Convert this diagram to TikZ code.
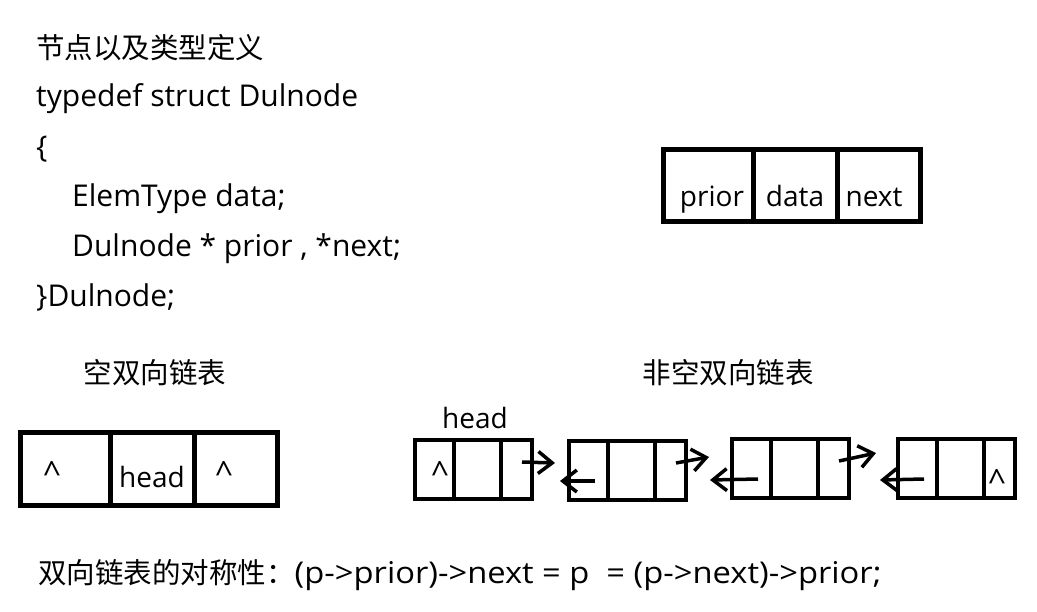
\documentclass[tikz,border=0pt]{standalone}
\usepackage{fontspec}
\setmainfont{Open Sans}
\newfontfamily\cjk{Noto Sans CJK SC}
\usetikzlibrary{arrows.meta}
\tikzset{
  txt/.style={inner sep=0pt, anchor=base west, font=\fontsize{30}{34}\selectfont},
  ctxt/.style={inner sep=0pt, anchor=base, font=\fontsize{28}{32}\selectfont},
  caret/.style={inner sep=0pt, anchor=base, font=\fontsize{32}{34}\selectfont},
  cjktxt/.style={inner sep=0pt, anchor=base, font=\fontsize{28.5}{32}\selectfont\cjk},
  bigbox/.style={draw, line width=5pt},
  smallbox/.style={draw, line width=3.5pt},
  link/.style={line width=3.5pt, -{Straight Barb[length=14pt,width=22pt,line width=3.5pt]}},
}
\begin{document}
\begin{tikzpicture}[x=1pt,y=-1pt]
\useasboundingbox (0,0) rectangle (1037,611);
% code text
\node[cjktxt, anchor=base west] (t0) at (36,58) {节点以及类型定义};
\node[txt] (t1) at (36,106) {typedef struct Dulnode};
\node[txt] (t2) at (36,157) {\{};
\node[txt] (t3) at (72,206) {ElemType data;};
\node[txt] (t4) at (72,256) {Dulnode * prior , *next;};
\node[txt] (t5) at (36,306) {\}Dulnode;};
% node type box
\draw[bigbox] (663,149) rectangle (920,221);
\draw[bigbox] (753,149) -- (753,221);
\draw[bigbox] (837,149) -- (837,221);
\node[ctxt] (bp) at (712,206) {prior};
\node[ctxt] (bd) at (795,206) {data};
\node[ctxt] (bn) at (874,206) {next};
% empty list
\node[cjktxt] (l1) at (155,383) {空双向链表};
\draw[bigbox] (20,432) rectangle (277,505);
\draw[bigbox] (110,432) -- (110,505);
\draw[bigbox] (194,432) -- (194,505);
\node[caret] (e1) at (52,484) {\^{}};
\node[ctxt] (e2) at (152,487) {head};
\node[caret] (e3) at (224,484) {\^{}};
% non-empty list
\node[cjktxt] (l2) at (728,383) {非空双向链表};
\node[ctxt] (hd) at (475,428) {head};
\foreach \n/\x/\y in {n1/415/440, n2/569/441, n3/732/439, n4/898/439}{
  \draw[smallbox] (\x,\y) rectangle ++(117,59);
  \draw[smallbox] (\x+39,\y) -- ++(0,59);
  \draw[smallbox] (\x+86,\y) -- ++(0,59);
  \coordinate (\n-nx) at (\x+107,\y+22);
  \coordinate (\n-pv) at (\x+26,\y+40);
}
\node[caret] (c1) at (440,484) {\^{}};
\node[caret] (c4) at (997,492) {\^{}};
\coordinate (a1) at (555,463);
\coordinate (b1) at (560,481);
\coordinate (a2) at (709,457);
\coordinate (b2) at (710,480);
\coordinate (a3) at (876,453);
\coordinate (b3) at (880,480);
\draw[link] (n1-nx) -- (a1);
\draw[link] (n2-pv) -- (b1);
\draw[link] (n2-nx) -- (a2);
\draw[link] (n3-pv) -- (b2);
\draw[link] (n3-nx) -- (a3);
\draw[link] (n4-pv) -- (b3);
% bottom
\node[txt] (sym) at (38,583) {{\cjk\fontsize{28.5}{32}\selectfont 双向链表的对称性：}\scalebox{1.09}[1]{(p->prior)->next = p\ \ = (p->next)->prior;}};
\end{tikzpicture}
\end{document}
